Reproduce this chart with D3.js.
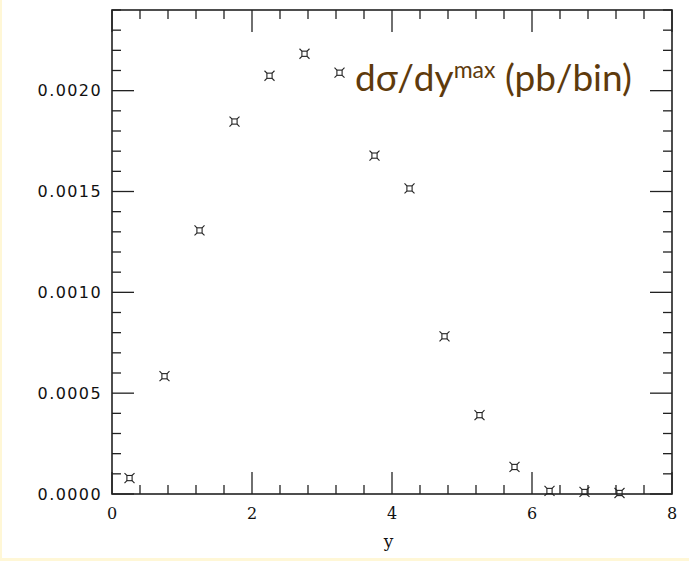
<!DOCTYPE html>
<html>
<head>
<meta charset="utf-8">
<script src="https://cdn.jsdelivr.net/npm/d3@7"></script>
<style>
  html, body { margin: 0; padding: 0; background: #fff; }
  #chart { width: 689px; height: 561px; }
</style>
</head>
<body>
<div id="chart"></div>
<script>
// bin centres in y and d(sigma)/dy values (pb/bin)
const binCenters = [0.25, 0.75, 1.25, 1.75, 2.25, 2.75, 3.25, 3.75, 4.25, 4.75, 5.25, 5.75, 6.25, 6.75, 7.25];
const xsecValues = [0.000079, 0.000584, 0.001307, 0.001847, 0.002074, 0.002183, 0.002089, 0.001678,
                    0.001515, 0.000782, 0.000391, 0.000134, 0.000015, 0.000010, 0.000005];
const xTicks = [0, 2, 4, 6, 8];
const yTicks = [0, 0.0005, 0.0010, 0.0015, 0.0020];
const yTickLabels = ['0.0000', '0.0005', '0.0010', '0.0015', '0.0020'];

const width = 689, height = 561;
const margin = { top: 10, right: 17, bottom: 67, left: 112 };

const svg = d3.select('#chart').append('svg')
  .attr('width', width)
  .attr('height', height);

// cream page border
svg.append('rect').attr('x', 0).attr('y', 0).attr('width', width).attr('height', height).attr('fill', '#fff7d6');
svg.append('rect').attr('x', 2).attr('y', 0).attr('width', width - 2).attr('height', height - 3).attr('fill', '#fff');

const x = d3.scaleLinear().domain([0, 8]).range([margin.left, width - margin.right]);
const y = d3.scaleLinear().domain([0, 0.0024]).range([height - margin.bottom, margin.top]);

const x0 = x.range()[0], x1 = x.range()[1];
const y0 = y.range()[0], y1 = y.range()[1];
const ink = '#222';

// minor / major ticks on all four sides, pointing inward
const xMinor = d3.range(0, 8.001, 0.4);
const yMinor = d3.range(0, 0.00240001, 0.0001);
const majLen = 22, minLen = 9;
const isMajorX = v => Math.abs(v / 2 - Math.round(v / 2)) < 1e-6;
const isMajorY = v => Math.abs(v / 0.0005 - Math.round(v / 0.0005)) < 1e-6;

const ticks = svg.append('g').attr('stroke', ink).attr('stroke-width', 1.3);
xMinor.forEach(v => {
  const len = isMajorX(v) ? majLen : minLen;
  ticks.append('line').attr('x1', x(v)).attr('x2', x(v)).attr('y1', y0).attr('y2', y0 - len);
  ticks.append('line').attr('x1', x(v)).attr('x2', x(v)).attr('y1', y1).attr('y2', y1 + len);
});
yMinor.forEach(v => {
  const len = isMajorY(v) ? majLen : minLen;
  ticks.append('line').attr('x1', x0).attr('x2', x0 + len).attr('y1', y(v)).attr('y2', y(v));
  ticks.append('line').attr('x1', x1).attr('x2', x1 - len).attr('y1', y(v)).attr('y2', y(v));
});

// frame
svg.append('rect')
  .attr('x', x0).attr('y', y1)
  .attr('width', x1 - x0).attr('height', y0 - y1)
  .attr('fill', 'none').attr('stroke', ink).attr('stroke-width', 1.6);

// tick labels
svg.append('g').selectAll('text')
  .data(yTicks)
  .enter().append('text')
  .attr('x', x0 - 10)
  .attr('y', d => y(d))
  .attr('dy', '0.36em')
  .attr('text-anchor', 'end')
  .attr('font-family', 'DejaVu Sans')
  .attr('font-size', '16px')
  .attr('letter-spacing', '1.4px')
  .attr('fill', '#111')
  .text((d, i) => yTickLabels[i]);

svg.append('g').selectAll('text')
  .data(xTicks)
  .enter().append('text')
  .attr('x', d => x(d))
  .attr('y', y0 + 25)
  .attr('text-anchor', 'middle')
  .attr('font-family', 'DejaVu Serif')
  .attr('font-size', '16px')
  .attr('fill', '#111')
  .text(d => d);

svg.append('text')
  .attr('x', x(3.95))
  .attr('y', y0 + 53)
  .attr('text-anchor', 'middle')
  .attr('font-family', 'DejaVu Serif')
  .attr('font-size', '17px')
  .attr('fill', '#111')
  .text('y');

// data markers: small square with diagonal corner spurs
const pts = binCenters.map((c, i) => ({ c, v: xsecValues[i] }));
const mk = svg.append('g').attr('stroke', ink).attr('stroke-width', 1.1).attr('fill', 'none');
const s = 2.6, sp = 5;
pts.forEach(d => {
  const px = x(d.c), py = y(d.v);
  mk.append('rect').attr('x', px - s).attr('y', py - s).attr('width', 2 * s).attr('height', 2 * s);
  [[-1, -1], [1, -1], [1, 1], [-1, 1]].forEach(([dx, dy]) => {
    mk.append('line')
      .attr('x1', px + dx * s).attr('y1', py + dy * s)
      .attr('x2', px + dx * sp).attr('y2', py + dy * sp);
  });
});

// annotation
const title = svg.append('text')
  .attr('x', 355)
  .attr('y', 91)
  .attr('font-family', 'Lato')
  .attr('font-size', '37px')
  .attr('fill', '#5e3a0c');
title.append('tspan').text('dσ/dy');
title.append('tspan').attr('font-size', '23px').attr('dy', '-13').text('max');
title.append('tspan').attr('dy', '13').text(' (pb/bin)');
</script>
</body>
</html>
